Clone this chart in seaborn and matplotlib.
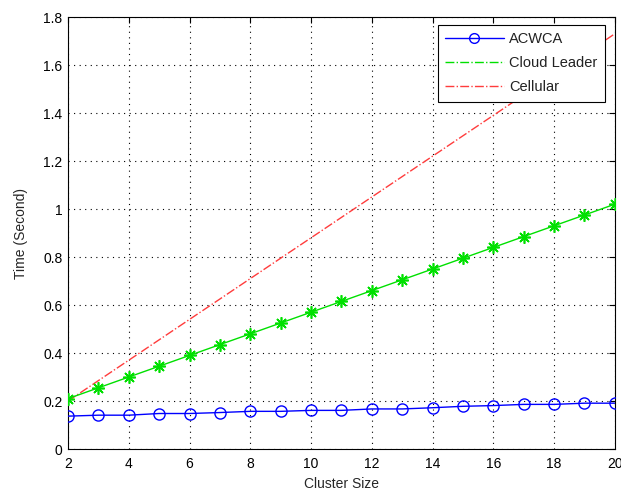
import matplotlib
matplotlib.use("Agg")
import matplotlib.pyplot as plt
from matplotlib.lines import Line2D
import seaborn as sns

cluster_size = list(range(2, 21))
acwca = [0.137, 0.141, 0.141, 0.148, 0.148, 0.152, 0.157, 0.157, 0.161, 0.161,
         0.167, 0.167, 0.172, 0.178, 0.181, 0.186, 0.186, 0.191, 0.191]
cloud_leader = [0.21, 0.255, 0.30, 0.345, 0.39, 0.435, 0.48, 0.525, 0.57, 0.615,
                0.66, 0.705, 0.75, 0.795, 0.84, 0.885, 0.93, 0.975, 1.02]
cellular = [0.20, 0.285, 0.37, 0.455, 0.54, 0.625, 0.71, 0.795, 0.88, 0.965,
            1.05, 1.135, 1.22, 1.305, 1.39, 1.475, 1.56, 1.645, 1.73]

sns.set_style("white")
plt.rcParams["font.family"] = ["Liberation Sans", "DejaVu Sans"]

fig = plt.figure(figsize=(6.21, 4.93), dpi=100)
ax = fig.add_axes([0.1095, 0.0892, 0.8805, 0.8763])

sns.lineplot(x=cluster_size, y=cellular, ax=ax, color="#ff3c3c", linewidth=1.0,
             linestyle="-.", zorder=2)
sns.lineplot(x=cluster_size, y=cloud_leader, ax=ax, color="#00e000", linewidth=1.0,
             marker=(8, 2, 0), markersize=9, markeredgecolor="#00e000",
             markeredgewidth=1.2, zorder=3)
sns.lineplot(x=cluster_size, y=acwca, ax=ax, color="blue", linewidth=1.0,
             marker="o", markersize=8, markerfacecolor="none",
             markeredgecolor="blue", markeredgewidth=1.0, zorder=4)

ax.set_xlim(2, 20)
ax.set_ylim(0, 1.8)
ax.set_xticks(range(2, 21, 2))
ax.set_yticks([0, 0.2, 0.4, 0.6, 0.8, 1.0, 1.2, 1.4, 1.6, 1.8])
ax.set_yticklabels(["0", "0.2", "0.4", "0.6", "0.8", "1", "1.2", "1.4", "1.6", "1.8"])
ax.grid(True, linestyle=(0, (1, 4)), color="black", linewidth=0.8)
ax.tick_params(direction="in", top=True, right=True, length=4, width=0.8,
               labelsize=10, colors="black", pad=4)
ax.tick_params(axis="x", pad=6)
for s in ax.spines.values():
    s.set_color("black")
    s.set_linewidth(0.8)
ax.set_xlabel("Cluster Size", fontsize=10, labelpad=4)
ax.set_ylabel("Time (Second)", fontsize=10, labelpad=11)

handles = [
    Line2D([], [], color="blue", linewidth=1.0, marker="o", markersize=7,
           markerfacecolor="none", markeredgecolor="blue"),
    Line2D([], [], color="#00e000", linewidth=1.0, linestyle="-."),
    Line2D([], [], color="#ff3c3c", linewidth=1.0, linestyle="-."),
]
leg = ax.legend(handles, ["ACWCA", "Cloud Leader", "Cellular"], loc="upper right",
                bbox_to_anchor=(0.982, 0.982), fontsize=10.5, frameon=True,
                fancybox=False, framealpha=1, edgecolor="black",
                handlelength=4.0, handletextpad=0.4, borderpad=0.5,
                labelspacing=0.7, borderaxespad=0.0)
leg.get_frame().set_linewidth(0.8)
leg.set_zorder(10)
for t in leg.get_texts():
    t.set_color("#222222")

fig.savefig("out.png", dpi=100)
